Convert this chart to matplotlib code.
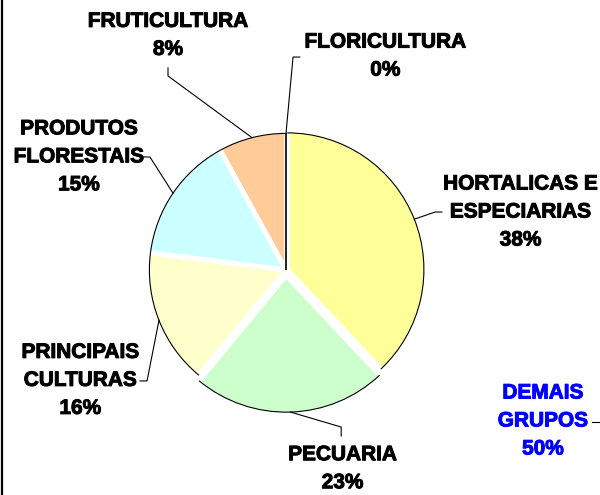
import numpy as np
import matplotlib
matplotlib.use('Agg')
import matplotlib.pyplot as plt
import matplotlib.patheffects as pe
from matplotlib.patches import Arc
from matplotlib.lines import Line2D

plt.rcParams['font.family'] = ['Liberation Sans', 'DejaVu Sans']

# Data
categories = ['HORTALICAS E\nESPECIARIAS', 'PECUARIA', 'PRINCIPAIS\nCULTURAS',
              'PRODUTOS\nFLORESTAIS', 'FRUTICULTURA', 'FLORICULTURA']
shares = [38, 23, 16, 15, 8, 0]
colors = ['#FFFF99', '#CCFFCC', '#FFFFCC', '#CCFFFF', '#FFCC99', '#FFFFFF']
other_label = 'DEMAIS\nGRUPOS'
other_share = 50

# label layout (data coords, pie radius = 1): text centre, elbow, stub end
label_pos = [(1.70, 0.42), (0.41, -1.44), (-1.49, -0.80),
             (-1.50, 0.82), (-0.855, 1.70), (0.72, 1.55)]
elbows = [(1.08, 0.42), (0.40, -1.138), (-1.007, -0.804),
          (-0.986, 0.819), (-0.855, 1.406), (0.051, 1.543)]
stubs = [(1.13, 0.42), (0.40, -1.203), (-1.058, -0.804),
         (-1.043, 0.819), (-0.855, 1.464), (0.10, 1.543)]

BLUE = '#0000FF'
PX = 138.0  # pixels per data unit
XLIM = (-286 / PX, (600 - 286) / PX)
YLIM = ((270 - 495) / PX, 270 / PX)

fig = plt.figure(figsize=(6.0, 4.95), dpi=100, facecolor='white')
ax = fig.add_axes([0, 0, 1, 1])
ax.set_aspect('equal')
ax.axis('off')

explode = [0.01, 0.04, 0, 0, 0, 0]
wedges, _ = ax.pie(shares, colors=colors, startangle=90, counterclock=False,
                   radius=0.99, center=(0, 0), explode=explode,
                   wedgeprops=dict(edgecolor='none', linewidth=0),
                   normalize=True)
ax.set_xlim(*XLIM)
ax.set_ylim(*YLIM)

for w, share in zip(wedges, shares):
    cx, cy = w.center
    r = w.r
    if share == 0:
        t = np.deg2rad(w.theta1)
        ax.plot([cx, cx + r * np.cos(t)], [cy, cy + r * np.sin(t)],
                color='#222222', lw=1.4, zorder=4, solid_capstyle='butt')
        continue
    for th in (w.theta1, w.theta2):
        t = np.deg2rad(th)
        ax.plot([cx, cx + 1.03 * r * np.cos(t)], [cy, cy + 1.03 * r * np.sin(t)],
                color='white', lw=3.5, zorder=2, solid_capstyle='butt')
    ax.add_patch(Arc((cx, cy), 2 * r, 2 * r, theta1=w.theta1, theta2=w.theta2,
                     color='black', lw=0.8, zorder=3))

text_kw = dict(ha='center', va='center', fontsize=15, fontweight='bold',
               linespacing=1.6, zorder=6)

# labels and leader lines
for w, name, share, tp, el, st in zip(wedges, categories, shares, label_pos, elbows, stubs):
    mid = np.deg2rad((w.theta1 + w.theta2) / 2)
    cx, cy = w.center
    px, py = cx + w.r * np.cos(mid), cy + w.r * np.sin(mid)
    ax.plot([st[0], el[0], px], [st[1], el[1], py], color='black', lw=0.8, zorder=5)
    ax.text(tp[0], tp[1], f'{name}\n{share}%', color='black',
            path_effects=[pe.withStroke(linewidth=0.7, foreground='black')], **text_kw)

ax.text(1.862, -1.094, f'{other_label}\n{other_share}%', color=BLUE,
        path_effects=[pe.withStroke(linewidth=0.7, foreground=BLUE)], **text_kw)
ax.plot([2.217, 2.29], [-1.101, -1.101], color='black', lw=0.8, zorder=5)

fig.add_artist(Line2D([0.004, 0.004], [0, 1], transform=fig.transFigure,
                      color='black', lw=1.6))

fig.savefig('out.png', dpi=100, facecolor='white')
